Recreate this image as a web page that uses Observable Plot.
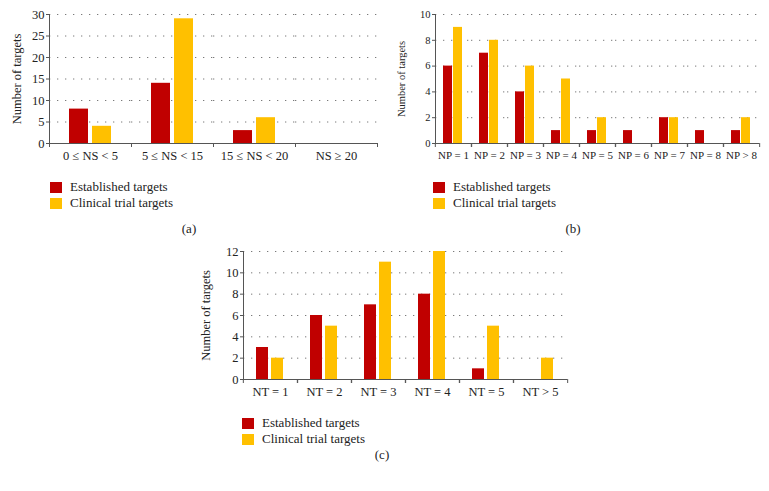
<!DOCTYPE html>
<html><head><meta charset="utf-8">
<script src="https://cdn.jsdelivr.net/npm/d3@7"></script>
<script src="https://cdn.jsdelivr.net/npm/@observablehq/plot@0.6"></script>
<style>
body{margin:0;background:#fff;}
#root{position:relative;width:769px;height:491px;overflow:hidden;font-family:"Liberation Serif","DejaVu Serif",serif;color:#222;background:#fff;}
.panel{position:absolute;}
.sw{position:absolute;width:12px;height:11px;}
.lt{position:absolute;font-size:13px;line-height:14px;white-space:nowrap;}
.cap{position:absolute;font-size:13px;line-height:14px;transform:translateX(-50%);}
</style></head><body><div id="root"></div>
<script>
const seriesNames = ["Established targets", "Clinical trial targets"];
const seriesColors = ["#c00000", "#ffc000"];

const catsA = ["0 ≤ NS < 5", "5 ≤ NS < 15", "15 ≤ NS < 20", "NS ≥ 20"];
const estA = [8, 14, 3, 0];
const clinA = [4, 29, 6, 0];

const catsB = ["NP = 1", "NP = 2", "NP = 3", "NP = 4", "NP = 5", "NP = 6", "NP = 7", "NP = 8", "NP > 8"];
const estB = [6, 7, 4, 1, 1, 1, 2, 1, 1];
const clinB = [9, 8, 6, 5, 2, 0, 2, 0, 2];

const catsC = ["NT = 1", "NT = 2", "NT = 3", "NT = 4", "NT = 5", "NT > 5"];
const estC = [3, 6, 7, 8, 1, 0];
const clinC = [2, 5, 11, 12, 5, 2];

const yTicksA = [0, 5, 10, 15, 20, 25, 30];
const yTicksB = [0, 2, 4, 6, 8, 10];
const yTicksC = [0, 2, 4, 6, 8, 10, 12];

const root = document.getElementById("root");
const FONT = "'Liberation Serif', 'DejaVu Serif', serif";

function panel(o) {
  const rows = o.cats.flatMap((c, i) => [
    {cat: c, series: seriesNames[0], value: o.est[i]},
    {cat: c, series: seriesNames[1], value: o.clin[i]}
  ]);
  const yMax = o.yTicks[o.yTicks.length - 1];
  const bw = (o.width - o.mL - o.mR) / o.cats.length;
  const chart = Plot.plot({
    width: o.width, height: o.height,
    marginLeft: o.mL, marginRight: o.mR, marginTop: o.mT, marginBottom: o.mB,
    style: {fontFamily: FONT, fontSize: o.tickFont + "px", color: "#222", background: "transparent"},
    fx: {domain: o.cats, padding: 0, label: null},
    x: {domain: seriesNames, paddingInner: o.pi, paddingOuter: o.po, axis: null},
    y: {domain: [0, yMax], label: "Number of targets"},
    color: {domain: seriesNames, range: seriesColors},
    marks: [
      Plot.gridY({ticks: o.yTicks.slice(1), stroke: "#7a7a7a", strokeOpacity: 1, strokeDasharray: "1.3,6.7"}),
      Plot.barY(rows, {fx: "cat", x: "series", y: "value", fill: "series"}),
      Plot.ruleY([0], {stroke: "#555"}),
      Plot.frame({anchor: "left", facetAnchor: "left", stroke: "#555"}),
      Plot.axisY({ticks: o.yTicks, tickSize: 3, tickPadding: 2, stroke: "#555", label: "Number of targets",
        labelAnchor: "center", labelArrow: "none", labelOffset: o.labelOffset, fontSize: o.tickFont}),
      Plot.axisFx({anchor: "bottom", tickSize: 4, dx: -bw / 2, tickFormat: () => "", label: null, stroke: "#555"}),
      Plot.axisFx({anchor: "bottom", tickSize: 4, dx: bw / 2, tickFormat: () => "", label: null, stroke: "#555"}),
      Plot.axisFx({anchor: "bottom", tickSize: 0, tickPadding: o.xPad, label: null, fontSize: o.xFont})
    ]
  });
  const div = document.createElement("div");
  div.className = "panel";
  div.style.left = o.left + "px";
  div.style.top = o.top + "px";
  div.appendChild(chart);
  root.appendChild(div);

  seriesNames.forEach((s, i) => {
    const sw = document.createElement("div");
    sw.className = "sw";
    sw.style.left = o.legX + "px";
    sw.style.top = (o.legY + i * 16) + "px";
    sw.style.background = seriesColors[i];
    root.appendChild(sw);
    const t = document.createElement("div");
    t.className = "lt";
    t.style.left = (o.legX + 20) + "px";
    t.style.top = (o.legY - 2 + i * 16) + "px";
    t.textContent = s;
    root.appendChild(t);
  });
  const cap = document.createElement("div");
  cap.className = "cap";
  cap.style.left = o.capX + "px";
  cap.style.top = o.capY + "px";
  cap.textContent = o.cap;
  root.appendChild(cap);
}

panel({cats: catsA, est: estA, clin: clinA, yTicks: yTicksA, left: 0, top: 0, width: 385, height: 165,
  mL: 49, mR: 8, mT: 14, mB: 22, tickFont: 12.5, xFont: 12.5, xPad: 8, labelOffset: 37, pi: 0.17, po: 0.83,
  legX: 50, legY: 182, capX: 189, capY: 222, cap: "(a)"});

panel({cats: catsB, est: estB, clin: clinB, yTicks: yTicksB, left: 380, top: 0, width: 385, height: 165,
  mL: 53, mR: 5, mT: 14, mB: 22, tickFont: 10.5, xFont: 11, xPad: 8, labelOffset: 38, pi: 0.095, po: 0.78,
  legX: 433, legY: 182, capX: 573, capY: 222, cap: "(b)"});

panel({cats: catsC, est: estC, clin: clinC, yTicks: yTicksC, left: 180, top: 235, width: 395, height: 165,
  mL: 62, mR: 7, mT: 16, mB: 21, tickFont: 12.5, xFont: 12.5, xPad: 8, labelOffset: 42, pi: 0.19, po: 0.79,
  legX: 242, legY: 418, capX: 382, capY: 448, cap: "(c)"});
</script></body></html>
